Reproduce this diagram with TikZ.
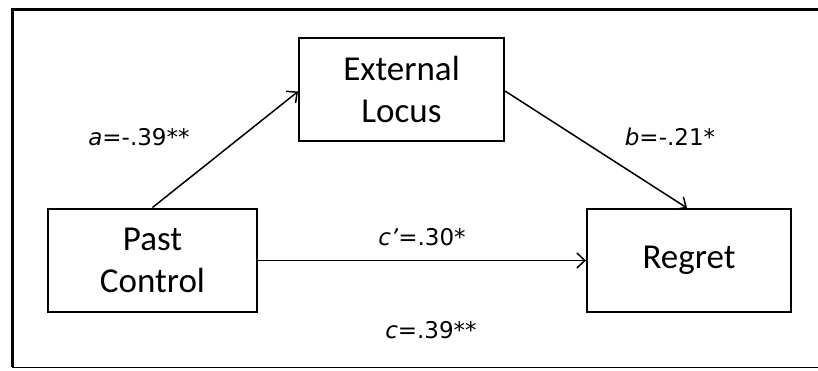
\documentclass[tikz,border=0pt]{standalone}
\usepackage{fontspec}
\setmainfont{Carlito}
\newfontfamily\labfont{DejaVu Sans}
\usepackage{tikz}
\usetikzlibrary{arrows.meta, positioning}
\tikzset{
  >={Straight Barb[length=8pt, width=15pt, line width=1.5pt]},
  var/.style={
    draw=black, fill=white, line width=2pt, align=center,
    minimum width=#1, minimum height=103pt, inner sep=0pt,
    font=\fontsize{35}{42}\selectfont
  },
  var/.default=205pt,
  path/.style={->, line width=1.5pt},
  coef/.style={anchor=base, inner sep=0pt, font=\labfont\fontsize{23}{27}\selectfont}
}
\begin{document}
\begin{tikzpicture}[x=1pt, y=-1pt]
  \useasboundingbox (0,0) rectangle (818,370);
  % frame
  \draw[line width=3pt] (830,9) -- (12,9) -- (12,367);
  \draw[line width=1pt] (12,367) -- (830,367);
  % variables
  \node[var=205pt] (ext) at (401.5,89.5) {External\\Locus};
  \node[var=209pt] (past) at (152.5,260) {Past\\Control};
  \node[var=204pt] (regret) at (689,260.5) {Regret};
  % paths
  \draw[path] (past.north) -- ([yshift=-2pt]ext.west);
  \draw[path] ([yshift=-1.5pt]ext.east) -- ([xshift=-2pt]regret.north);
  \draw[path] (past.east |- regret.west) -- (regret.west);
  % coefficients
  \node[coef] (lab-a) at (139,145) {\textit{a}=-.39**};
  \node[coef] (lab-b) at (670,145) {\textit{b}=-.21*};
  \node[coef] (lab-cp) at (422,245) {\textit{c’}=.30*};
  \node[coef] (lab-c) at (431,338) {\textit{c}=.39**};
\end{tikzpicture}
\end{document}
